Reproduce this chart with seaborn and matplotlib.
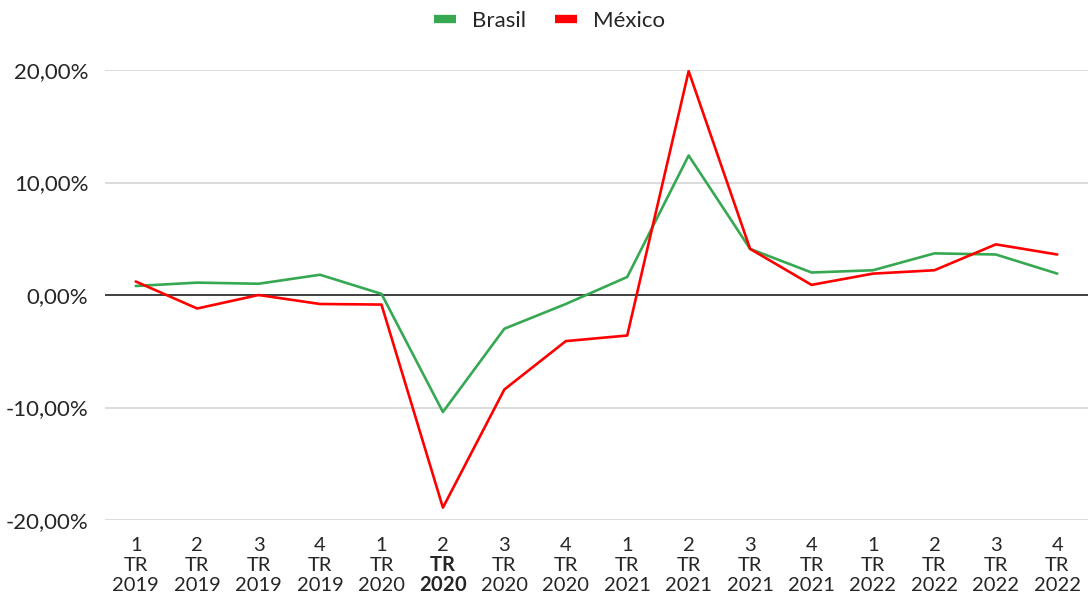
import pandas as pd
import seaborn as sns
import matplotlib.pyplot as plt
from matplotlib.ticker import FuncFormatter

sns.set_style("white")
plt.rcParams['font.family'] = ['Lato', 'DejaVu Sans']
plt.rcParams['mathtext.fontset'] = 'custom'
plt.rcParams['mathtext.rm'] = 'Lato'
plt.rcParams['mathtext.bf'] = 'Lato:bold'

quarters = ["1", "2", "3", "4"] * 4
years = ["2019"] * 4 + ["2020"] * 4 + ["2021"] * 4 + ["2022"] * 4
brasil = [0.8, 1.1, 1.0, 1.8, 0.1, -10.4, -3.0, -0.8, 1.6, 12.4, 4.1, 2.0, 2.2, 3.7, 3.6, 1.9]
mexico = [1.2, -1.2, 0.0, -0.8, -0.85, -18.9, -8.4, -4.1, -3.6, 19.9, 4.1, 0.9, 1.9, 2.2, 4.5, 3.6]
destaque = 5  # 2 TR 2020, parte em negrito

labels = [q + "\nTR\n" + y for q, y in zip(quarters, years)]
labels[destaque] = quarters[destaque] + "\n$\\mathbf{TR}$\n$\\mathbf{" + years[destaque] + "}$"
df = pd.DataFrame({"periodo": list(range(len(labels))) * 2,
                   "valor": brasil + mexico,
                   "pais": ["Brasil"] * len(labels) + ["México"] * len(labels)})

fig = plt.figure(figsize=(10.88, 6.02), dpi=100)
ax = fig.add_axes([105 / 1088, 82 / 602, 983 / 1088, 450 / 602])

sns.lineplot(data=df, x="periodo", y="valor", hue="pais",
             palette={"Brasil": "#36a852", "México": "#ff0000"},
             linewidth=1.9, ax=ax, legend=True)

ax.set_ylim(-20, 20)
ax.set_xlim(-0.5, len(labels) - 0.5)
ax.set_yticks([-20, -10, 0, 10, 20])
ax.yaxis.set_major_formatter(FuncFormatter(lambda v, p: "{:.2f}%".format(v).replace(".", ",")))
ax.grid(axis="y", color="#d6d6d6", linewidth=1.2)
ax.axhline(0, color="#404040", linewidth=1.4, zorder=1.5)
for s in ax.spines.values():
    s.set_visible(False)

ax.set_xticks(range(len(labels)))
ax.set_xticklabels(labels, fontsize=14.5, linespacing=1.22)
ax.get_xticklabels()[destaque].set_linespacing(1.08)
ax.tick_params(axis="x", length=0, pad=12)
ax.tick_params(axis="y", length=0, pad=12, labelsize=16)
ax.set_xlabel("")
ax.set_ylabel("")

handles, lbls = ax.get_legend_handles_labels()
ax.get_legend().remove()
leg = fig.legend(handles, lbls, loc="center", bbox_to_anchor=(0.505, 0.965), ncol=2,
                 frameon=False, fontsize=16, handlelength=1.0, handletextpad=0.7,
                 columnspacing=1.3)
for h in leg.get_lines():
    h.set_linewidth(6)
    h.set_solid_capstyle("butt")

fig.savefig("out.png", dpi=100)
